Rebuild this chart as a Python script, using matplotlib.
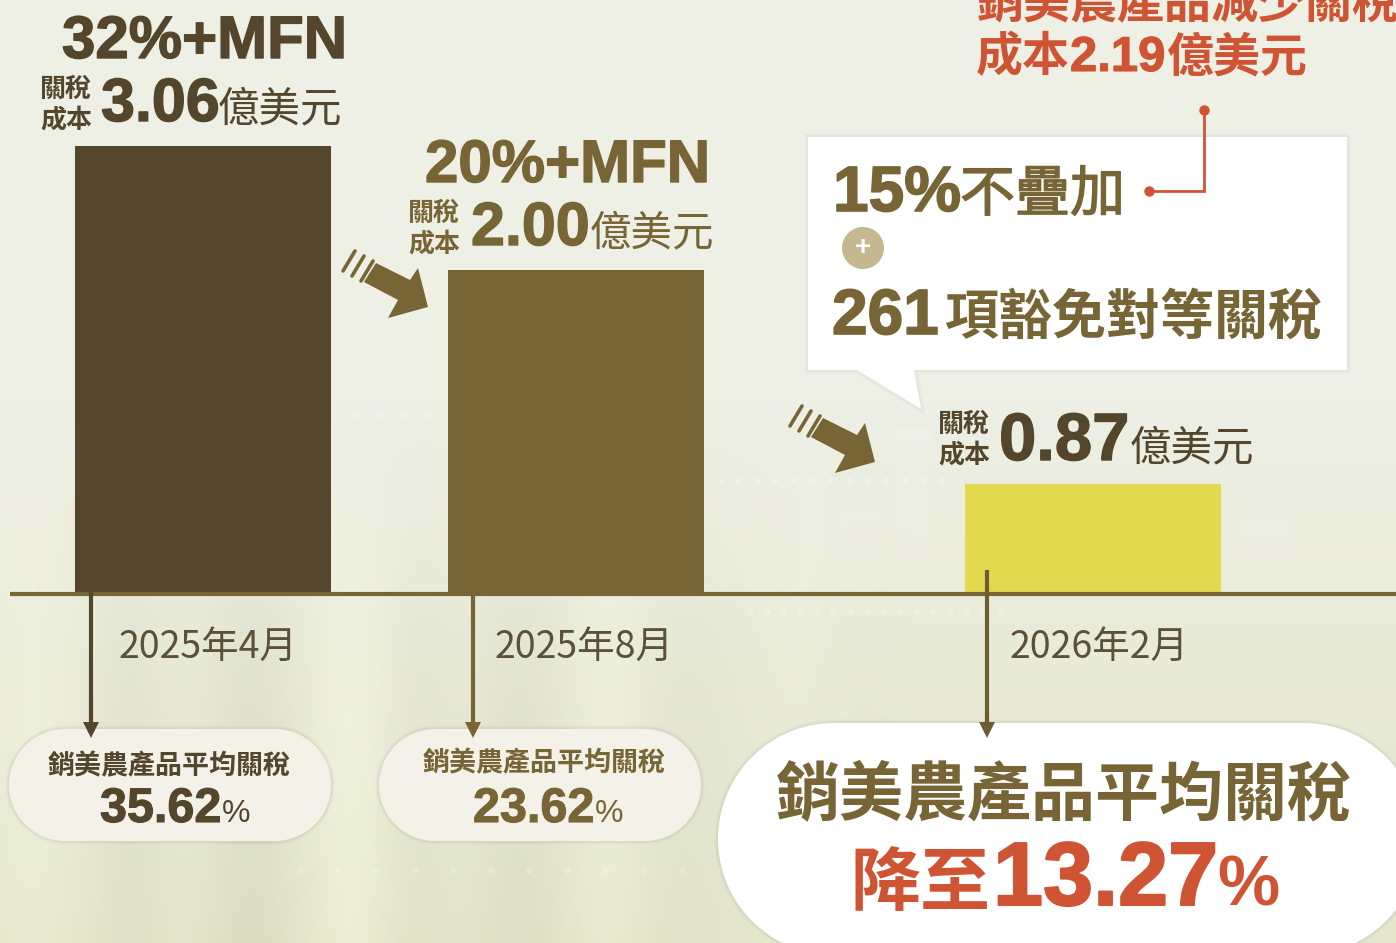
import numpy as np
import matplotlib
matplotlib.use("Agg")
import matplotlib.pyplot as plt
from matplotlib.patches import Polygon, Circle
import matplotlib.patheffects as pe

dates = ["2025年4月", "2025年8月", "2026年2月"]
tariff_labels = ["32%+MFN", "20%+MFN"]
costs = [3.06, 2.00, 0.87]
avg_rates = [35.62, 23.62, 13.27]
# the drawn bars are not to scale with the costs, heights are read off the picture (px)
bar_heights = [446, 322, 108]
saved_cost = 2.19
exempt_items = 261
flat_rate = 15

DARK = "#54462c"
MID = "#776536"
RED = "#cf5433"
YELLOW = "#e3d94f"
LATIN = ["Liberation Sans", "Noto Sans CJK TC"]
CJK = ["Noto Sans CJK TC", "Liberation Sans"]

fig = plt.figure(figsize=(13.96, 9.43), dpi=100)
ax = fig.add_axes([0, 0, 1, 1])
ax.axis("off")


def make_background():
    x = np.arange(1396)[None, :]
    y = np.arange(943)[:, None]
    top = np.array([238, 239, 229.0])
    low = np.array([228, 231, 204.0])
    t = np.clip((y - 400) / 543, 0, 1)[..., None]
    img = top * (1 - t) + low * t
    # soft vertical streaks, stronger on the lower left
    strength = np.clip((y - 420) / 300, 0, 1) * np.clip((1000 - x) / 500, 0.1, 1)
    streak = np.zeros((1, 1396))
    for cx, w, a in [(30, 45, 5), (130, 35, -6), (250, 45, -9), (350, 40, 7), (420, 35, -4),
                     (520, 45, -8), (610, 35, 6), (690, 50, -6), (800, 45, 4), (860, 35, -3)]:
        streak = streak + a * np.exp(-((x - cx) / w) ** 2)
    img = img + (streak * strength)[..., None]
    return np.clip(img, 0, 255) / 255


ax.imshow(make_background(), extent=(0, 1396, 943, 0), aspect="auto", zorder=0)
ax.set_xlim(0, 1396)
ax.set_ylim(943, 0)

# faint backdrop bars and rows of dots
for x0, x1, y0 in [(795, 830, 455), (840, 880, 510), (895, 930, 430), (1240, 1290, 520)]:
    ax.fill_between([x0, x1], y0, 592, color="white", alpha=0.08, lw=0, zorder=1)
for y0, x0, x1, n in [(612, 750, 1000, 16), (415, 100, 430, 14), (480, 720, 960, 14), (870, 300, 720, 12)]:
    ax.scatter(np.linspace(x0, x1, n), np.full(n, y0), s=22, color="white", alpha=0.22, lw=0, zorder=1)


def put(x, y, s, px, color, weight="bold", ha="left", family=LATIN, z=6, thick=0.0):
    t = ax.text(x, y, s, fontsize=px * 0.72, color=color, fontweight=weight, ha=ha, va="baseline",
                family=family, zorder=z)
    if thick:
        t.set_path_effects([pe.withStroke(linewidth=thick, foreground=color)])
    return t


def arrow(dx, dy):
    pts = np.array([(376, 263), (410, 280), (418, 268), (428, 307), (388, 318), (398, 300), (364, 282)], dtype=float)
    ax.add_patch(Polygon(pts + (dx, dy), closed=True, color=MID, lw=0, zorder=3))
    for k in range(3):
        ax.plot(np.array([343, 355]) + 9 * k + dx, np.array([271, 251]) + 5 * k + dy, color=MID, lw=2.6,
                solid_capstyle="round", zorder=3)


def pill(x0, x1, y0, y1, col):
    r = (y1 - y0) / 2
    a = np.linspace(-np.pi / 2, np.pi / 2, 60)
    right = np.c_[x1 - r + r * np.cos(a), y0 + r + r * np.sin(a)]
    left = np.c_[x0 + r - r * np.cos(a[::-1]), y0 + r + r * np.sin(a[::-1])]
    soft = [pe.Stroke(linewidth=5, foreground="#77775a", alpha=0.05),
            pe.Stroke(linewidth=2.5, foreground="#77775a", alpha=0.08), pe.Normal()]
    ax.add_patch(Polygon(np.r_[right, left], closed=True, fc=col, ec="none", zorder=4, path_effects=soft))


# bars
bar_x = [203, 576, 1093]
ax.bar(bar_x, [-h for h in bar_heights], bottom=592, width=256, color=[DARK, MID, YELLOW], zorder=2)

# baseline
ax.plot([10, 1396], [594, 594], color=MID, lw=3, zorder=3, solid_capstyle="butt")

arrow(0, 0)
arrow(447, 155)

# drop lines
for x, y0, col in [(91, 592, DARK), (473, 592, MID), (987, 570, "#6e5c33")]:
    ax.plot([x, x], [y0, 726], color=col, lw=3, zorder=7, solid_capstyle="butt")
    ax.add_patch(Polygon([(x - 8, 722), (x + 8, 722), (x, 738)], closed=True, color=col, lw=0, zorder=7))

# date labels
for x, d in zip([119, 495, 1010], dates):
    put(x, 658, d, 37.5, "#5c5038", weight="normal", family=CJK)

# headers above the bars
put(62, 58, tariff_labels[0], 60, DARK, thick=1)
put(425, 182, tariff_labels[1], 60, MID, thick=1)

for x, y1, y2, nx, ny, npx, ux, col, c in [(40, 97, 127, 101, 121, 61, 218, DARK, costs[0]),
                                           (408, 221, 251, 471, 245, 61, 590, MID, costs[1]),
                                           (938, 432, 462, 999, 460, 67, 1130, DARK, costs[2])]:
    put(x, y1, "關稅", 26, col, family=CJK)
    put(x, y2, "成本", 26, col, family=CJK)
    put(nx, ny, f"{c:.2f}", npx, col, thick=1)
    put(ux, ny, "億美元", 41.5, col, weight="normal", family=CJK)

# red note, its first line runs off the top and right edge
put(976, 18, "銷美農產品減少關稅", 47, RED, family=CJK)
put(976, 71, "成本", 47, RED, family=CJK)
put(1070, 71, f"{saved_cost:.2f}", 49, RED, thick=0.8)
put(1166, 71, "億美元", 47, RED, family=CJK)

# callout box
soft_box = [pe.Stroke(linewidth=5, foreground="#8a8a70", alpha=0.04),
            pe.Stroke(linewidth=2.5, foreground="#8a8a70", alpha=0.06), pe.Normal()]
ax.add_patch(Polygon([(808, 137), (1347, 137), (1347, 370), (914, 370), (921, 409), (857, 370), (808, 370)],
                     closed=True, fc="white", ec="none", zorder=4, path_effects=soft_box))
put(833, 211, f"{flat_rate}%", 64, MID, thick=1.2)
put(960, 211, "不疊加", 55, MID, weight="normal", family=CJK, thick=1)
ax.add_patch(Circle((863, 248), 21, color="#c5b88f", lw=0, zorder=5))
put(863, 255, "+", 28, "white", ha="center")
put(832, 334, f"{exempt_items}", 64, MID, thick=1.2)
put(944, 334, "項豁免對等關稅", 54, MID, family=CJK)

# connector
ax.plot([1204, 1204, 1149], [110, 191, 191], color=RED, lw=2, zorder=5, solid_joinstyle="miter")
ax.plot([1204, 1149], [110, 191], ls="none", marker="o", ms=6.5, color=RED, zorder=5)

# pills
pill(9, 331, 729, 841, "#f3f1e8")
pill(379, 701, 729, 841, "#f3f1e8")
pill(718, 1420, 723, 955, "white")

put(169, 774, "銷美農產品平均關稅", 27, DARK, ha="center", family=CJK)
put(100, 822, f"{avg_rates[0]:.2f}", 48.5, DARK, thick=0.8)
put(222, 822, "%", 32, DARK, weight="normal")
put(544, 771, "銷美農產品平均關稅", 27, MID, ha="center", family=CJK)
put(473, 822, f"{avg_rates[1]:.2f}", 48.5, MID, thick=0.8)
put(595, 822, "%", 32, MID, weight="normal")

put(1064, 814, "銷美農產品平均關稅", 64, MID, ha="center", family=CJK)
put(850, 905, "降至", 70, RED, family=CJK)
put(993, 905, f"{avg_rates[2]:.2f}", 90, RED, thick=1.5)
put(1217, 905, "%", 70, RED)

fig.savefig("out.png", dpi=100)
